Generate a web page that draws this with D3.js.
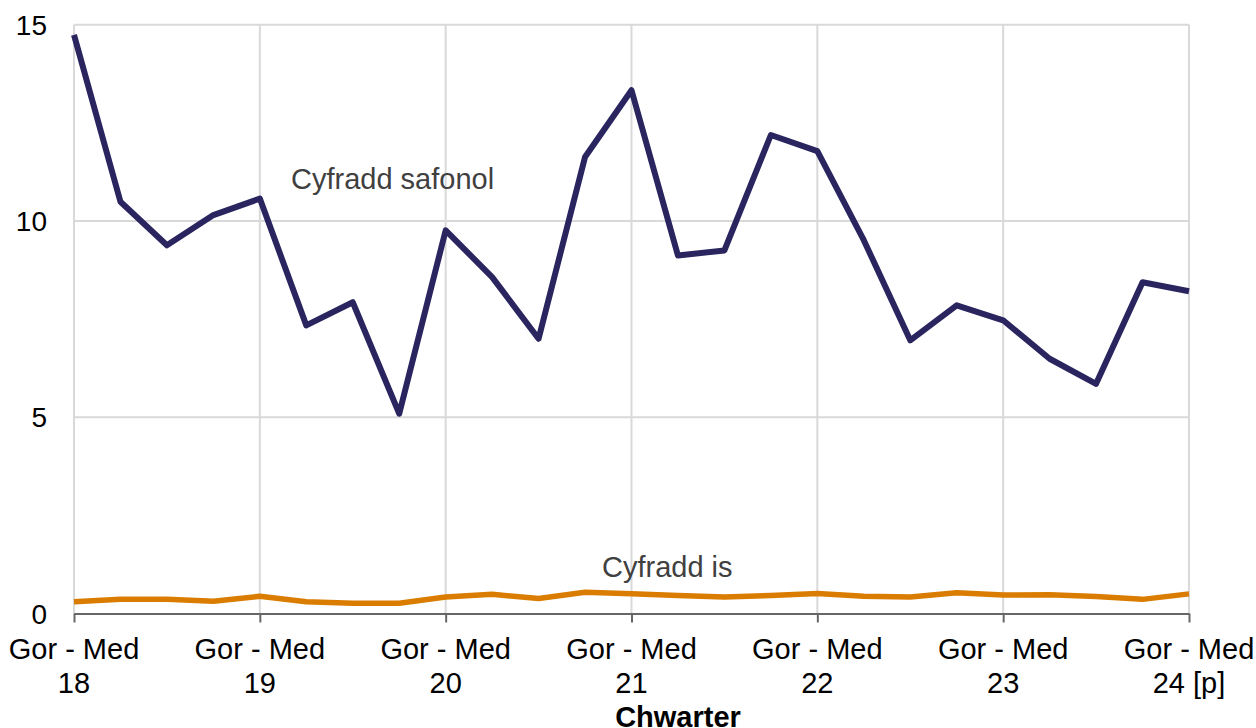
<!DOCTYPE html>
<html>
<head>
<meta charset="utf-8">
<script src="https://cdn.jsdelivr.net/npm/d3@7"></script>
<style>
  body { margin: 0; background: #fff; }
  svg { display: block; font-family: "Liberation Sans", Arial, sans-serif; }
</style>
</head>
<body>
<svg id="chart" width="1256" height="728"></svg>
<script>
// quarters, Jul-Sep 2018 to Jul-Sep 2024
const quarters = [
  "Gor - Med 18", "Hyd - Rhag 18", "Ion - Maw 19", "Ebr - Meh 19",
  "Gor - Med 19", "Hyd - Rhag 19", "Ion - Maw 20", "Ebr - Meh 20",
  "Gor - Med 20", "Hyd - Rhag 20", "Ion - Maw 21", "Ebr - Meh 21",
  "Gor - Med 21", "Hyd - Rhag 21", "Ion - Maw 22", "Ebr - Meh 22",
  "Gor - Med 22", "Hyd - Rhag 22", "Ion - Maw 23", "Ebr - Meh 23",
  "Gor - Med 23", "Hyd - Rhag 23", "Ion - Maw 24", "Ebr - Meh 24",
  "Gor - Med 24 [p]"
];
const standardRate = [
  14.74, 10.49, 9.38, 10.15, 10.57, 7.34, 7.93, 5.09,
  9.76, 8.57, 7.00, 11.63, 13.33, 9.12, 9.25, 12.19,
  11.78, 9.51, 6.96, 7.85, 7.47, 6.49, 5.85, 8.44, 8.21
];
const lowerRate = [
  0.30, 0.36, 0.36, 0.31, 0.44, 0.30, 0.26, 0.26,
  0.42, 0.49, 0.38, 0.54, 0.50, 0.46, 0.42, 0.46,
  0.51, 0.44, 0.42, 0.53, 0.47, 0.48, 0.43, 0.36, 0.50
];
const yTicks = [0, 5, 10, 15];
const tickQuarters = quarters.filter((q, i) => i % 4 === 0);

const svg = d3.select("#chart");
const plotLeft = 74, plotRight = 1189, plotTop = 24.7, plotBottom = 613.5;

const x = d3.scalePoint().domain(quarters).range([plotLeft, plotRight]);
const y = d3.scaleLinear().domain([0, 15]).range([plotBottom, plotTop]);

// grid
svg.append("g")
  .selectAll("line")
  .data(yTicks.filter(d => d > 0))
  .enter().append("line")
  .attr("x1", plotLeft).attr("x2", plotRight)
  .attr("y1", d => y(d)).attr("y2", d => y(d))
  .attr("stroke", "#d9d9d9").attr("stroke-width", 2);

svg.append("g")
  .selectAll("line")
  .data(tickQuarters)
  .enter().append("line")
  .attr("x1", d => x(d)).attr("x2", d => x(d))
  .attr("y1", plotTop).attr("y2", plotBottom)
  .attr("stroke", "#d9d9d9").attr("stroke-width", 2);

// x axis
const xAxis = svg.append("g")
  .attr("transform", `translate(0,${plotBottom})`)
  .call(d3.axisBottom(x).tickValues(tickQuarters).tickSize(9).tickSizeOuter(0).tickFormat(""));
xAxis.select(".domain").attr("stroke", "#666").attr("stroke-width", 2);
xAxis.selectAll(".tick line").attr("stroke", "#666").attr("stroke-width", 2);

const xl = svg.append("g").selectAll("text")
  .data(tickQuarters)
  .enter().append("text")
  .attr("x", d => x(d))
  .attr("text-anchor", "middle")
  .attr("font-size", 29)
  .attr("fill", "#000");
xl.append("tspan").attr("x", d => x(d)).attr("y", 659).text("Gor - Med");
xl.append("tspan").attr("x", d => x(d)).attr("y", 693).text(d => d.replace("Gor - Med ", ""));

svg.append("text")
  .attr("x", 678).attr("y", 727)
  .attr("text-anchor", "middle")
  .attr("font-size", 29).attr("font-weight", "bold")
  .attr("fill", "#000")
  .text("Chwarter");

// y labels
svg.append("g").selectAll("text")
  .data(yTicks)
  .enter().append("text")
  .attr("x", 47)
  .attr("y", d => y(d) + 10)
  .attr("text-anchor", "end")
  .attr("font-size", 28)
  .attr("fill", "#000")
  .text(d => d);

// lines
const line = vals => d3.line()
  .x((d, i) => x(quarters[i]))
  .y(d => y(d))(vals);

svg.append("path")
  .attr("d", line(lowerRate))
  .attr("fill", "none")
  .attr("stroke", "#d97c00")
  .attr("stroke-width", 5.5)
  .attr("stroke-linejoin", "round");

svg.append("path")
  .attr("d", line(standardRate))
  .attr("fill", "none")
  .attr("stroke", "#2a255f")
  .attr("stroke-width", 6)
  .attr("stroke-linejoin", "round");

// series labels
svg.append("text")
  .attr("x", 291).attr("y", 189)
  .attr("font-size", 29).attr("fill", "#404040")
  .text("Cyfradd safonol");

svg.append("text")
  .attr("x", 602).attr("y", 577)
  .attr("font-size", 29).attr("fill", "#404040")
  .text("Cyfradd is");
</script>
</body>
</html>
